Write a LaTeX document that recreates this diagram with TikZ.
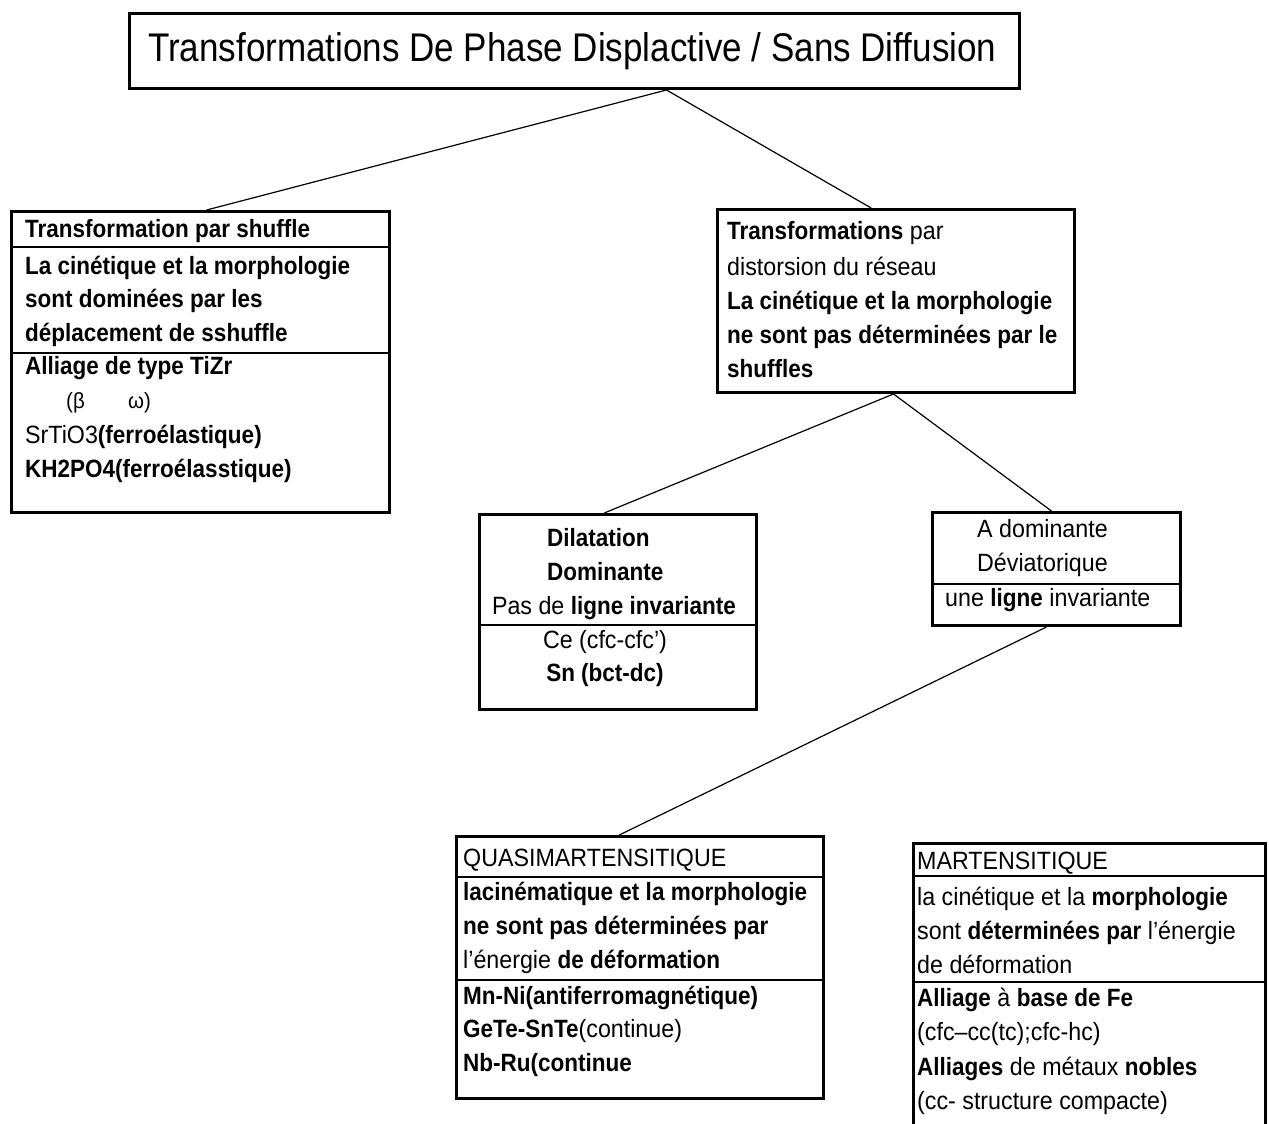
\documentclass[tikz,border=0pt]{standalone}
\usepackage{fontspec}
\setmainfont{Liberation Sans}[FakeStretch=0.93, BoldFeatures={FakeStretch=0.9}]
\newfontfamily\titlefont{Liberation Sans}[FakeStretch=0.875]
\usetikzlibrary{calc}
\newcommand{\B}[1]{\textbf{#1}}
\tikzset{
  boxst/.style={draw, line width=3pt, inner sep=0pt, anchor=north west},
  divst/.style={line width=1.4pt},
  conn/.style={line width=1.2pt},
  ln/.style={anchor=base west, inner sep=0pt, font=\fontsize{25}{34}\selectfont},
  lnc/.style={anchor=base, inner sep=0pt, font=\fontsize{25}{34}\selectfont}
}
\begin{document}
\begin{tikzpicture}[x=1pt,y=-1pt]
\useasboundingbox (0,0) rectangle (1269,1124);
\fill[white] (0,0) rectangle (1269,1124);
\begin{scope}
\clip (0,0) rectangle (1269,1124);

% Title
\node[boxst, minimum width=890pt, minimum height=75pt] (title) at (128,12) {};
\node[anchor=base west, inner sep=0pt, font=\titlefont\fontsize{40}{48}\selectfont] (ttext) at (148,62) {Transformations De Phase Displactive / Sans Diffusion};

% Left box (shuffle)
\node[boxst, minimum width=378pt, minimum height=301pt] (lb) at (10,210) {};
\draw[divst] (10,247) -- (388,247);
\draw[divst] (10,353) -- (388,353);
\node[ln] (l1) at (25,237) {\B{Transformation par shuffle}};
\node[ln] (l2) at (25,274) {\B{La cinétique et la morphologie}};
\node[ln] (l3) at (25,307) {\B{sont dominées par les}};
\node[ln] (l4) at (25,341) {\B{déplacement de sshuffle}};
\node[ln] (l5) at (25,374) {\B{Alliage de type TiZr}};
\node[ln, font=\fontsize{22}{24}\selectfont] (l6a) at (66,408) {(β};
\node[ln, font=\fontsize{22}{24}\selectfont] (l6b) at (128,408) {ω)};
\node[ln] (l7) at (25,443) {SrTiO3\B{(ferroélastique)}};
\node[ln] (l8) at (25,477) {\B{KH2PO4(ferroélasstique)}};

% Right box (distorsion)
\node[boxst, minimum width=357pt, minimum height=183pt] (rb) at (716,208) {};
\node[ln] (r1) at (727,239) {\B{Transformations} par};
\node[ln] (r2) at (727,275) {distorsion du réseau};
\node[ln] (r3) at (727,309) {\B{La cinétique et la morphologie}};
\node[ln] (r4) at (727,343) {\B{ne sont pas déterminées par le}};
\node[ln] (r5) at (727,377) {\B{shuffles}};

% Dilatation box
\node[boxst, minimum width=277pt, minimum height=195pt] (db) at (478,513) {};
\draw[divst] (478,625) -- (755,625);
\node[ln] (d1) at (547,546) {\B{Dilatation}};
\node[ln] (d2) at (547,580) {\B{Dominante}};
\node[lnc] (d3) at (614,614) {Pas de \B{ligne invariante}};
\node[lnc] (d4) at (605,648) {Ce (cfc-cfc')};
\node[lnc] (d5) at (605,681) {\B{Sn (bct-dc)}};

% A dominante box
\node[boxst, minimum width=248pt, minimum height=113pt] (ab) at (931,511) {};
\draw[divst] (931,584) -- (1179,584);
\node[ln] (a1) at (977,537) {A dominante};
\node[ln] (a2) at (977,571) {Déviatorique};
\node[ln] (a3) at (945,606) {une \B{ligne} invariante};

% Quasimartensitique box
\node[boxst, minimum width=367pt, minimum height=262pt] (qb) at (455,835) {};
\draw[divst] (455,877) -- (822,877);
\node[ln] (q1) at (463,866) {QUASIMARTENSITIQUE};
\node[ln] (q2) at (463,900) {\B{lacinématique et la morphologie}};
\node[ln] (q3) at (463,934) {\B{ne sont pas déterminées par}};
\node[ln] (q4) at (463,968) {l'énergie \B{de déformation}};
\draw[divst] (455,980) -- (822,980);
\node[ln] (q5) at (463,1004) {\B{Mn-Ni(antiferromagnétique)}};
\node[ln] (q6) at (463,1037) {\B{GeTe-SnTe}(continue)};
\node[ln] (q7) at (463,1071) {\B{Nb-Ru(continue}};

% Martensitique box (runs off the bottom)
\node[boxst, minimum width=352pt, minimum height=300pt] (mb) at (912,842) {};
\draw[divst] (912,876) -- (1264,876);
\draw[divst] (912,982) -- (1264,982);
\node[ln] (m1) at (917,869) {MARTENSITIQUE};
\node[ln] (m2) at (917,905) {la cinétique et la \B{morphologie}};
\node[ln] (m3) at (917,939) {sont \B{déterminées par} l'énergie};
\node[ln] (m4) at (917,973) {de déformation};
\node[ln] (m5) at (917,1006) {\B{Alliage} à \B{base de Fe}};
\node[ln] (m6) at (917,1040) {(cfc–cc(tc);cfc-hc)};
\node[ln] (m7) at (917,1075) {\B{Alliages} de métaux \B{nobles}};
\node[ln] (m8) at (917,1109) {(cc- structure compacte)};

% Connectors
\coordinate (tj) at ($(title.south west)!0.603!(title.south east)$);
\coordinate (lbt) at ($(lb.north west)!0.516!(lb.north east)$);
\coordinate (rbt) at ($(rb.north west)!0.431!(rb.north east)$);
\coordinate (rbb) at ($(rb.south west)!0.493!(rb.south east)$);
\coordinate (dbt) at ($(db.north west)!0.451!(db.north east)$);
\coordinate (abt) at ($(ab.north west)!0.48!(ab.north east)$);
\coordinate (abb) at ($(ab.south west)!0.46!(ab.south east)$);
\coordinate (qbt) at ($(qb.north west)!0.444!(qb.north east)$);
\draw[conn] (tj) -- (lbt);
\draw[conn] (tj) -- (rbt);
\draw[conn] (rbb) -- (dbt);
\draw[conn] (rbb) -- (abt);
\draw[conn] (abb) -- (qbt);
\end{scope}
\end{tikzpicture}
\end{document}
